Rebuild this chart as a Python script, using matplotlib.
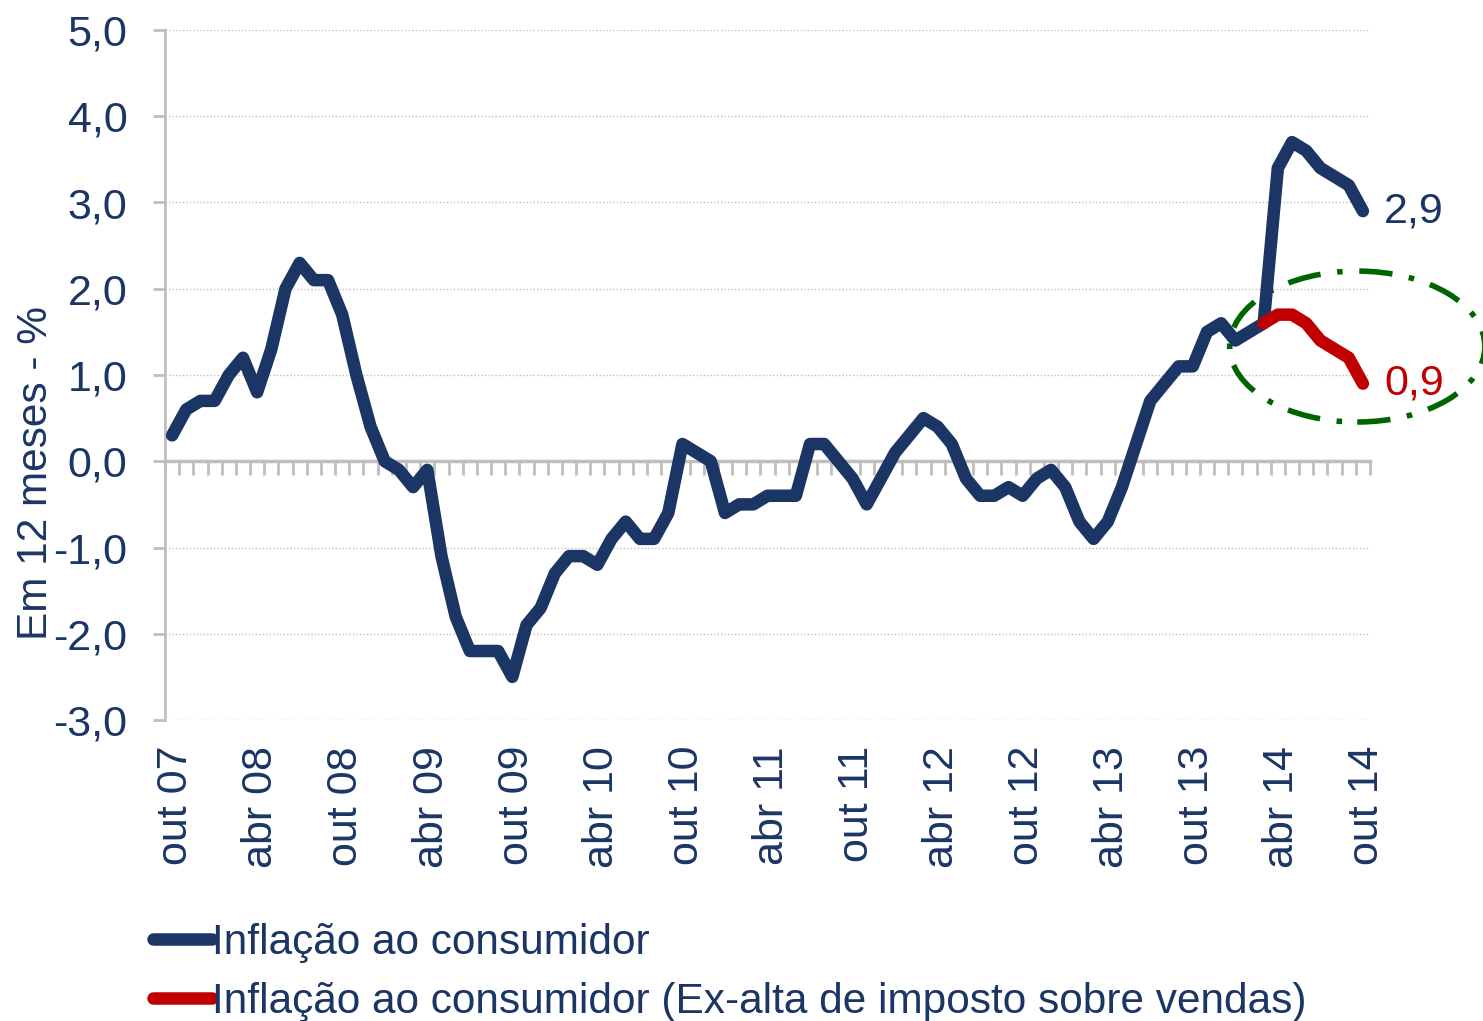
import matplotlib
matplotlib.use("Agg")
import matplotlib.pyplot as plt
from matplotlib.patches import Ellipse
from matplotlib.lines import Line2D
import numpy as np

plt.rcParams['font.family'] = ['Liberation Sans', 'DejaVu Sans']

# Monthly data, Oct 2007 .. Oct 2014
inflacao = [
    0.3, 0.6, 0.7, 0.7, 1.0, 1.2, 0.8, 1.3, 2.0, 2.3, 2.1, 2.1,
    1.7, 1.0, 0.4, 0.0, -0.1, -0.3, -0.1, -1.1, -1.8, -2.2, -2.2, -2.2,
    -2.5, -1.9, -1.7, -1.3, -1.1, -1.1, -1.2, -0.9, -0.7, -0.9, -0.9, -0.6,
    0.2, 0.1, 0.0, -0.6, -0.5, -0.5, -0.4, -0.4, -0.4, 0.2, 0.2, 0.0,
    -0.2, -0.5, -0.2, 0.1, 0.3, 0.5, 0.4, 0.2, -0.2, -0.4, -0.4, -0.3,
    -0.4, -0.2, -0.1, -0.3, -0.7, -0.9, -0.7, -0.3, 0.2, 0.7, 0.9, 1.1,
    1.1, 1.5, 1.6, 1.4, 1.5, 1.6, 3.4, 3.7, 3.6, 3.4, 3.3, 3.2, 2.9,
]
ex_imposto_start = 77
ex_imposto = [1.6, 1.7, 1.7, 1.6, 1.4, 1.3, 1.2, 0.9]

tick_labels = ["out 07", "abr 08", "out 08", "abr 09", "out 09", "abr 10", "out 10",
               "abr 11", "out 11", "abr 12", "out 12", "abr 13", "out 13", "abr 14", "out 14"]
y_ticks = [-3, -2, -1, 0, 1, 2, 3, 4, 5]
y_tick_labels = ["-3,0", "-2,0", "-1,0", "0,0", "1,0", "2,0", "3,0", "4,0", "5,0"]
series_names = ["Inflação ao consumidor",
                "Inflação ao consumidor (Ex-alta de imposto sobre vendas)"]
end_labels = ["2,9", "0,9"]

navy = '#1B3565'
red = '#C00000'
green = '#006400'
grey = '#BFBFBF'
FS = 31
FS2 = 30.5

W, H = 1483, 1021
fig = plt.figure(figsize=(W / 100, H / 100), dpi=100)
ax = fig.add_axes([165 / W, 1 - 720 / H, (1370 - 165) / W, (720 - 30) / H])

x = np.arange(len(inflacao))
x_red = np.arange(ex_imposto_start, ex_imposto_start + len(ex_imposto))

ax.plot(x, inflacao, color=navy, lw=9, solid_capstyle='round', solid_joinstyle='round', zorder=4)
ax.plot(x_red, ex_imposto, color=red, lw=9, solid_capstyle='round', solid_joinstyle='round', zorder=5)

ax.set_xlim(-0.5, len(inflacao) - 0.5)
ax.set_ylim(-3, 5)

# grid lines
for yv in y_ticks:
    if yv != 0:
        ax.axhline(yv, color='#BFBFBF', lw=1, ls=(0, (1, 1.5)), zorder=1)

# spines
for s in ['top', 'right']:
    ax.spines[s].set_visible(False)
ax.spines['left'].set_color(grey)
ax.spines['left'].set_linewidth(2)
ax.spines['bottom'].set_position(('data', 0))
ax.spines['bottom'].set_color(grey)
ax.spines['bottom'].set_linewidth(2.5)

ax.set_yticks(y_ticks)
ax.set_yticklabels(y_tick_labels, fontsize=FS, color=navy)
ax.tick_params(axis='y', length=9, width=2, color=grey, pad=18)

ax.set_xticks(np.arange(-0.5, len(inflacao), 1.0))
ax.set_xticklabels([])
ax.tick_params(axis='x', length=10, width=2, color=grey, direction='out')

# category labels at bottom
for k, lab in enumerate(tick_labels):
    ax.text(k * 6 + 0.3, -3.3, lab, rotation=90, ha='center', va='top',
            fontsize=FS, color=navy, clip_on=False)

ax.set_ylabel("Em 12 meses - %", fontsize=FS2, color=navy)
ax.yaxis.set_label_coords(-0.0905, 0.358)

# end labels
ax.annotate(end_labels[0], (x[-1], inflacao[-1]), xytext=(21, 0), textcoords='offset pixels',
            ha='left', va='center', fontsize=FS, color=navy)
ax.annotate(end_labels[1], (x_red[-1], ex_imposto[-1]), xytext=(21, 0), textcoords='offset pixels',
            ha='left', va='center', fontsize=FS, color=red)

# ellipse highlight
ell = Ellipse((83.6, 1.33), 18.0, 1.75, fill=False, edgecolor=green, lw=4,
              ls=(0, (6, 3, 1, 3)), clip_on=False, zorder=3)
ax.add_patch(ell)

handles = [Line2D([], [], color=navy, lw=9, solid_capstyle='round'),
           Line2D([], [], color=red, lw=9, solid_capstyle='round')]
fig.legend(handles, series_names, loc='upper left', bbox_to_anchor=(153 / W, 1 - 923 / H),
           frameon=False, fontsize=FS2, labelcolor=navy, handlelength=1.4, handletextpad=0.0,
           labelspacing=0.45, borderaxespad=0, borderpad=0)

fig.savefig("out.png", dpi=100)
